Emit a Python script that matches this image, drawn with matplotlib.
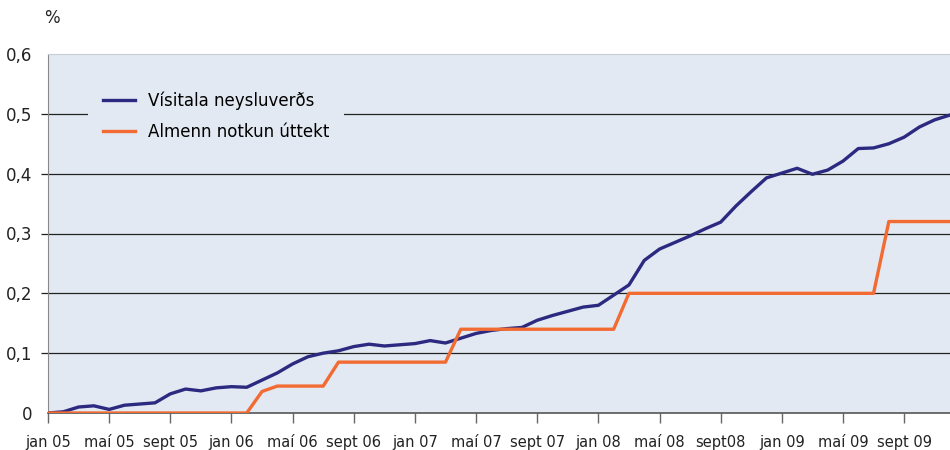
import matplotlib
matplotlib.use('Agg')
import matplotlib.pyplot as plt

# monthly values, jan 05 .. dec 09
visitala = [0.000, 0.002, 0.010, 0.012, 0.006, 0.013, 0.015, 0.017, 0.032, 0.040,
            0.037, 0.042, 0.044, 0.043, 0.055, 0.067, 0.082, 0.094, 0.100, 0.104,
            0.111, 0.115, 0.112, 0.114, 0.116, 0.121, 0.117, 0.125, 0.133, 0.138,
            0.141, 0.143, 0.155, 0.163, 0.170, 0.177, 0.180, 0.197, 0.214, 0.255,
            0.274, 0.285, 0.296, 0.308, 0.319, 0.346, 0.370, 0.393, 0.401, 0.409,
            0.399, 0.406, 0.421, 0.442, 0.443, 0.450, 0.461, 0.478, 0.490, 0.498]
uttekt = [0.0] * 14 + [0.036] + [0.045] * 4 + [0.085] * 8 + [0.140] * 11 \
    + [0.200] * 17 + [0.320] * 5
months = list(range(len(visitala)))

tick_pos = list(range(0, 57, 4))
tick_labels = ["jan 05", "maí 05", "sept 05", "jan 06", "maí 06", "sept 06", "jan 07",
               "maí 07", "sept 07", "jan 08", "maí 08", "sept08", "jan 09", "maí 09",
               "sept 09"]

bg = '#E3E9F2'
fig = plt.figure(figsize=(9.5, 4.5), dpi=100)
ax = fig.add_axes([48 / 950, 1 - 413 / 450, 1 - 48 / 950, (413 - 54) / 450])
ax.set_facecolor(bg)

ax.plot(months, visitala, color='#2B2A80', lw=2.4, label='Vísitala neysluverðs', zorder=3)
ax.plot(months, uttekt, color='#F26B32', lw=2.4, label='Almenn notkun úttekt', zorder=3)

ax.set_xlim(0, 59)
ax.set_ylim(0, 0.6)
ax.set_yticks([0, 0.1, 0.2, 0.3, 0.4, 0.5, 0.6])
ax.set_yticklabels(["0", "0,1", "0,2", "0,3", "0,4", "0,5", "0,6"], fontsize=12, color='#222222')
ax.set_xticks(tick_pos)
ax.set_xticklabels(tick_labels, fontsize=10.5, color='#222222')

for v in [0.1, 0.2, 0.3, 0.4, 0.5]:
    ax.axhline(v, color='#222222', lw=0.9, zorder=1)

ax.tick_params(axis='y', length=5, width=0.9, color='#222222', pad=6)
ax.tick_params(axis='x', length=7, width=1, color='#666666', pad=9)
# no tick marks at 0 and 0,6
yt = ax.yaxis.get_major_ticks()
yt[0].tick1line.set_visible(False)
yt[-1].tick1line.set_visible(False)

ax.spines['right'].set_visible(False)
ax.spines['top'].set_color('#C8CDD4')
ax.spines['top'].set_linewidth(0.8)
ax.spines['left'].set_color('#888888')
ax.spines['bottom'].set_color('#555555')
ax.spines['bottom'].set_linewidth(1.2)

leg = ax.legend(loc='upper left', bbox_to_anchor=(32 / 902, 1 - 14 / 359), fontsize=12,
                frameon=True, facecolor=bg, edgecolor='none', framealpha=1,
                handlelength=1.9, handletextpad=0.75, labelspacing=0.8, borderpad=0.9)
for line in leg.get_lines():
    line.set_linewidth(2.4)

fig.text(52 / 950, 1 - 18 / 450, "%", fontsize=12, ha='center', va='center', color='#222222')

plt.savefig("out.png", dpi=100)
plt.close()
